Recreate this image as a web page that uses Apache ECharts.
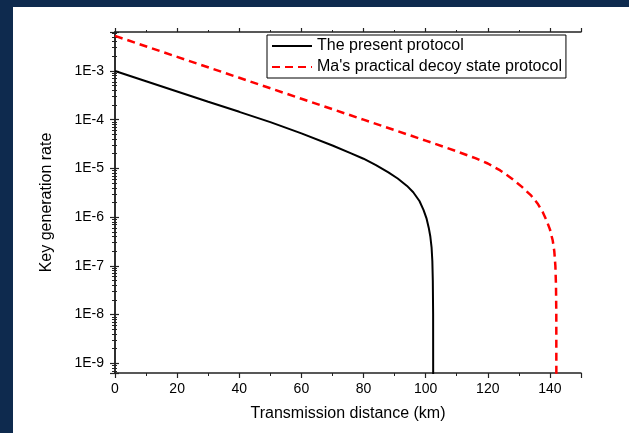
<!DOCTYPE html>
<html>
<head>
<meta charset="utf-8">
<script src="https://cdn.jsdelivr.net/npm/echarts@6/dist/echarts.min.js"></script>
<style>
html,body{margin:0;padding:0;background:#0e2a4e;}
#wrap{position:relative;width:629px;height:433px;background:#0e2a4e;overflow:hidden;}
#paper{position:absolute;left:13px;top:7px;right:0;bottom:0;background:#fff;}
#chart{position:absolute;left:0;top:0;width:629px;height:433px;}
</style>
</head>
<body>
<div id="wrap"><div id="paper"></div><div id="chart"></div></div>
<script>
// Data
const seriesNames = ["The present protocol", "Ma's practical decoy state protocol"];
const distPresent = [0, 10, 20, 30, 40, 50, 60, 70, 76, 80, 84, 88, 91, 94, 96, 98, 99.3, 100.3, 101, 101.5, 101.9, 102.15, 102.3, 102.4, 102.45];
const ratePresent = [1e-3, 6.17e-4, 3.8e-4, 2.34e-4, 1.45e-4, 8.9e-5, 5.25e-5, 2.95e-5, 2.04e-5, 1.58e-5, 1.17e-5, 8.3e-6, 6.2e-6, 4.37e-6, 3.24e-6, 2.14e-6, 1.41e-6, 9.3e-7, 6.0e-7, 4.0e-7, 2.4e-7, 1.26e-7, 5.0e-8, 1.0e-8, 1e-12];
const distMa = [0, 20, 40, 60, 80, 100, 110, 116, 120, 124, 128, 131, 134, 136, 137.7, 139, 140, 140.9, 141.4, 141.75, 141.95, 142.05, 142.1];
const rateMa = [5.25e-3, 1.95e-3, 7.24e-4, 2.69e-4, 1.0e-4, 3.72e-5, 2.24e-5, 1.62e-5, 1.26e-5, 9.1e-6, 6.0e-6, 4.17e-6, 2.75e-6, 1.91e-6, 1.26e-6, 8.3e-7, 5.6e-7, 3.3e-7, 2.0e-7, 1.0e-7, 4.0e-8, 1.0e-8, 1e-12];
const xMin = 0, xMax = 150, xStep = 20;
const yMin = Math.pow(10, -9.2), yMax = Math.pow(10, -2.2);
const xTitle = "Transmission distance (km)";
const yTitle = "Key generation rate";

const FONT = "'Liberation Sans', Arial, sans-serif";
const chart = echarts.init(document.getElementById('chart'), null, {renderer: 'canvas'});
const axisLineStyle = {color: '#222', width: 1.5};
const pairs = (xs, ys) => xs.map((x, i) => [x, ys[i]]);

const option = {
  animation: false,
  grid: {left: 115, right: 48, top: 32, bottom: 60, containLabel: false},
  legend: {
    orient: 'vertical', left: 267, top: 35,
    borderColor: '#000', borderWidth: 1, padding: [3, 4, 3, 4],
    itemWidth: 40, itemHeight: 14, itemGap: 5,
    itemStyle: {opacity: 0},
    textStyle: {fontSize: 16, color: '#000', fontFamily: FONT},
    data: seriesNames
  },
  xAxis: [{
    type: 'value', min: xMin, max: xMax, interval: xStep,
    name: xTitle, nameLocation: 'middle', nameGap: 33,
    nameTextStyle: {fontSize: 16, color: '#000', fontFamily: FONT},
    axisLine: {lineStyle: axisLineStyle},
    axisTick: {show: true, length: 5, lineStyle: {color: '#222', width: 1.2}},
    minorTick: {show: true, splitNumber: 2, length: 3, lineStyle: {color: '#222', width: 1}},
    axisLabel: {fontSize: 14, color: '#000', fontFamily: FONT, margin: 9, showMaxLabel: false,
      formatter: v => (v % xStep === 0 ? String(v) : '')},
    splitLine: {show: false}
  }, {
    type: 'value', min: xMin, max: xMax, interval: xStep, position: 'top',
    axisLine: {lineStyle: axisLineStyle},
    axisTick: {show: true, length: 4, lineStyle: {color: '#222', width: 1.2}},
    minorTick: {show: true, splitNumber: 2, length: 2, lineStyle: {color: '#222', width: 1}},
    axisLabel: {show: false}, splitLine: {show: false}
  }],
  yAxis: [{
    type: 'log', logBase: 10, min: yMin, max: yMax,
    name: yTitle, nameLocation: 'middle', nameGap: 60,
    nameTextStyle: {fontSize: 16, color: '#000', fontFamily: FONT},
    axisLine: {lineStyle: axisLineStyle},
    axisTick: {show: true, length: 5, lineStyle: {color: '#222', width: 1.2}},
    minorTick: {show: true, splitNumber: 9, length: 3, lineStyle: {color: '#222', width: 1}},
    axisLabel: {fontSize: 14, color: '#000', fontFamily: FONT, margin: 11,
      showMinLabel: false, showMaxLabel: false,
      formatter: v => '1E' + Math.round(Math.log10(v))},
    splitLine: {show: false}
  }, {
    type: 'log', logBase: 10, min: yMin, max: yMax, position: 'right',
    axisLine: {lineStyle: axisLineStyle},
    axisTick: {show: true, length: 4, lineStyle: {color: '#222', width: 1.2}},
    minorTick: {show: true, splitNumber: 9, length: 2, lineStyle: {color: '#222', width: 1}},
    axisLabel: {show: false}, splitLine: {show: false}
  }],
  series: [{
    name: seriesNames[0], type: 'line', xAxisIndex: 0, yAxisIndex: 0,
    data: pairs(distPresent, ratePresent), symbol: 'none', smooth: false,
    clip: true, lineStyle: {color: '#000', width: 2}, itemStyle: {color: '#000'}
  }, {
    name: seriesNames[1], type: 'line', xAxisIndex: 0, yAxisIndex: 0,
    data: pairs(distMa, rateMa), symbol: 'none', smooth: false,
    clip: true, lineStyle: {color: '#ff0000', width: 2.5, type: [8, 5]}, itemStyle: {color: '#ff0000'}
  }]
};
chart.setOption(option);
</script>
</body>
</html>
